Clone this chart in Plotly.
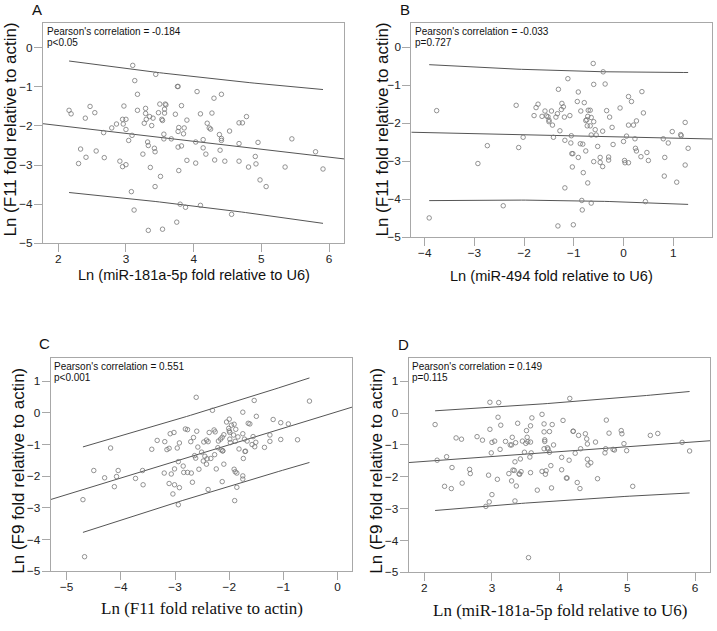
import numpy as np
import plotly.graph_objects as go

# ---------------- data ----------------
A_x = [2.16,2.19,2.47,2.40,2.54,2.33,2.41,2.30,2.56,2.67,
       2.68,2.79,2.86,2.91,2.95,2.97,2.95,2.96,3.00,3.00,
       3.00,3.04,3.09,3.08,3.10,3.13,3.12,3.17,3.17,3.29,
       3.29,3.30,3.27,3.25,3.33,3.32,3.35,3.38,3.40,3.36,
       3.33,3.42,3.43,3.43,3.44,3.48,3.50,3.53,3.54,3.58,
       3.57,3.57,3.56,3.56,3.51,3.54,3.59,3.67,3.73,3.76,
       3.77,3.77,3.78,3.77,3.78,3.75,3.82,3.82,3.80,3.85,
       3.86,3.88,3.90,3.90,4.05,4.03,4.03,4.10,4.10,4.14,
       4.14,4.18,4.20,4.23,4.25,4.27,4.30,4.31,4.38,4.39,
       4.41,4.41,4.41,4.46,4.53,4.56,4.67,4.67,4.67,4.72,
       4.78,4.81,4.91,4.92,4.95,4.98,5.07,5.35,5.45,5.80,5.91]
A_y = [-1.60,-1.69,-1.50,-1.80,-1.66,-2.59,-2.80,-2.96,-2.64,-2.17,
       -2.81,-2.05,-1.95,-2.90,-3.04,-1.49,-1.83,-1.95,-1.83,-2.09,
       -2.99,-2.37,-2.24,-3.68,-0.45,-0.84,-4.15,-1.60,-1.19,-1.55,
       -1.68,-1.83,-1.93,-2.72,-2.50,-2.41,-1.76,-1.99,-1.80,-3.06,
       -4.67,-2.57,-2.66,-3.55,-0.68,-1.66,-1.44,-1.83,-1.86,-1.44,
       -1.57,-1.67,-2.21,-2.33,-3.29,-4.64,-1.46,-2.33,-1.70,-0.99,
       -0.99,-2.14,-2.04,-2.54,-3.14,-4.46,-1.48,-2.51,-4.00,-2.20,
       -2.05,-4.08,-1.85,-2.88,-1.12,-2.41,-2.95,-1.69,-4.03,-2.35,
       -2.56,-2.72,-1.93,-2.05,-2.08,-1.67,-1.29,-2.87,-2.22,-2.62,
       -1.19,-2.32,-2.37,-2.90,-2.13,-4.26,-1.92,-2.45,-2.90,-1.92,
       -1.76,-3.05,-2.78,-2.97,-2.42,-3.38,-3.55,-3.05,-2.33,-2.66,-3.10]

B_x = [-3.91,-3.76,-2.93,-2.74,-2.42,-2.11,-2.02,-2.16,-1.80,-1.76,
       -1.72,-1.64,-1.58,-1.55,-1.52,-1.50,-1.50,-1.45,-1.43,-1.41,
       -1.36,-1.33,-1.31,-1.28,-1.25,-1.24,-1.21,-1.19,-1.18,-1.18,
       -1.12,-1.32,-1.08,-1.05,-1.06,-1.04,-1.02,-1.03,-1.01,-0.93,
       -0.91,-0.91,-0.86,-0.87,-0.82,-0.81,-0.84,-0.83,-0.79,-0.76,
       -0.74,-0.76,-0.73,-0.72,-0.71,-0.72,-0.67,-0.67,-0.65,-0.65,
       -0.65,-0.61,-0.60,-0.60,-0.60,-0.57,-0.55,-0.52,-0.47,-0.47,
       -0.42,-0.41,-0.42,-0.37,-0.34,-0.30,-0.30,-0.28,-0.23,-0.21,
       -0.07,0.00,0.02,0.03,0.06,0.10,0.10,0.10,0.16,0.20,
       0.23,0.24,0.26,0.26,0.35,0.37,0.40,0.44,0.47,0.50,
       0.80,0.82,0.83,0.90,0.98,1.07,1.15,1.16,1.24,1.24,1.30]
B_y = [-4.49,-1.67,-3.06,-2.59,-4.17,-2.64,-2.37,-1.53,-1.80,-1.59,
       -1.50,-1.82,-1.68,-1.81,-1.83,-1.92,-1.96,-1.68,-2.05,-2.37,
       -1.84,-1.75,-1.11,-2.20,-1.64,-1.48,-1.57,-1.84,-2.45,-3.70,
       -0.83,-4.70,-1.80,-2.33,-2.52,-2.80,-2.80,-3.15,-4.67,-1.43,
       -1.18,-2.90,-1.68,-2.54,-2.55,-3.30,-4.03,-4.28,-1.46,-1.93,
       -1.91,-2.73,-2.07,-1.82,-1.66,-3.57,-1.66,-2.07,-1.85,-2.31,
       -4.10,-0.43,-0.98,-1.96,-3.01,-2.17,-2.31,-2.61,-2.90,-3.03,
       -3.14,-0.65,-2.21,-0.97,-1.67,-2.89,-2.97,-1.84,-2.11,-2.56,
       -1.60,-2.48,-2.98,-3.04,-2.34,-1.30,-2.05,-3.04,-1.43,-2.05,
       -2.41,-2.66,-1.94,-2.73,-2.88,-1.17,-1.73,-4.06,-2.77,-2.98,
       -2.41,-3.39,-2.90,-2.52,-2.22,-3.55,-2.30,-2.33,-3.10,-1.98,-2.66]

C_x = [-4.70,-4.67,-4.50,-4.19,-4.30,-4.12,-4.08,-4.05,-3.73,-3.60,
       -3.59,-3.43,-3.33,-3.19,-3.20,-3.15,-3.11,-3.09,-3.11,-3.07,
       -3.04,-3.02,-3.01,-3.01,-2.96,-2.94,-2.92,-2.92,-2.94,-2.85,
       -2.84,-2.81,-2.77,-2.77,-2.71,-2.70,-2.68,-2.66,-2.64,-2.62,
       -2.61,-2.60,-2.58,-2.56,-2.51,-2.48,-2.45,-2.47,-2.42,-2.42,
       -2.41,-2.39,-2.39,-2.37,-2.34,-2.31,-2.28,-2.26,-2.27,-2.24,
       -2.21,-2.20,-2.16,-2.15,-2.13,-2.13,-2.12,-2.12,-2.10,-2.10,
       -2.05,-2.01,-2.00,-2.00,-1.99,-1.99,-1.98,-1.96,-1.92,-1.91,
       -1.91,-1.89,-1.90,-1.88,-1.89,-1.86,-1.86,-1.84,-1.82,-1.75,
       -1.75,-1.75,-1.75,-1.74,-1.72,-1.71,-1.70,-1.67,-1.65,-1.62,
       -1.58,-1.56,-1.54,-1.53,-1.51,-1.50,-1.35,-1.25,-1.25,-1.19,
       -1.05,-1.05,-0.91,-0.74,-0.52]
C_y = [-2.74,-4.54,-1.82,-1.11,-2.05,-2.33,-2.01,-1.82,-2.07,-1.82,
       -2.27,-1.15,-0.87,-0.91,-1.90,-1.16,-1.12,-0.66,-2.23,-1.93,
       -2.56,-0.62,-2.27,-1.77,-1.11,-1.54,-0.95,-2.36,-2.90,-1.68,
       -1.88,-0.51,-0.53,-1.88,-0.91,-1.90,-2.19,-0.78,-1.35,-1.43,
       0.49,-0.58,-1.08,-1.78,-1.24,-1.52,-1.37,-0.92,-1.62,-0.86,
       -1.45,-2.42,-0.91,-0.62,-1.44,0.08,-0.54,-0.60,-1.32,-1.77,
       -1.10,-0.89,-0.83,-1.17,-2.17,-0.77,-1.20,-1.20,-0.69,-1.62,
       -0.29,-0.49,-0.20,-0.57,-0.62,-0.83,-0.94,-0.39,-0.70,-0.36,
       -1.78,-1.86,-2.77,-0.52,-0.90,-1.90,-2.35,-0.76,-1.14,0.02,
       -0.66,-1.99,-2.09,-1.44,-0.83,-1.22,-1.21,-0.89,-0.33,-0.35,
       -1.00,-0.75,0.39,-1.07,-0.93,-0.11,-1.09,-0.90,-0.70,-0.21,
       -0.31,-0.84,-0.35,-0.85,0.37]

D_x = [2.16,2.19,2.30,2.33,2.40,2.41,2.47,2.55,2.56,2.67,
       2.68,2.78,2.86,2.91,2.96,2.95,2.97,2.97,2.99,3.00,
       3.00,3.04,3.08,3.09,3.10,3.12,3.13,3.20,3.25,3.27,
       3.29,3.29,3.30,3.31,3.33,3.34,3.34,3.35,3.36,3.38,
       3.40,3.41,3.42,3.43,3.45,3.48,3.50,3.51,3.52,3.53,
       3.56,3.57,3.57,3.57,3.54,3.58,3.59,3.67,3.74,3.74,
       3.77,3.77,3.78,3.78,3.77,3.79,3.80,3.82,3.83,3.85,
       3.85,3.87,3.88,3.89,3.91,4.03,4.03,4.05,4.10,4.11,
       4.14,4.15,4.20,4.20,4.23,4.26,4.28,4.30,4.31,4.38,
       4.40,4.41,4.41,4.42,4.46,4.53,4.56,4.67,4.68,4.69,
       4.73,4.79,4.81,4.91,4.92,4.95,4.99,5.08,5.34,5.45,5.81,5.92]
D_y = [-0.36,-1.48,-2.30,-1.37,-2.37,-1.71,-0.78,-0.82,-2.20,-1.77,
       -1.90,-0.74,-0.85,-2.93,-2.79,-1.95,-0.51,0.34,-1.25,-2.56,
       -0.92,-0.88,-2.08,-0.13,0.33,-1.14,-0.38,-0.89,-1.90,-1.00,
       -1.00,-2.13,-0.76,-1.79,-1.80,-2.76,-1.53,-0.93,-2.29,-0.32,
       -1.91,-1.92,-1.44,-1.84,-0.88,-1.23,-0.95,-0.55,-0.76,-0.90,
       -1.38,-1.87,-0.91,-0.40,-4.54,-1.25,-0.15,-2.42,-0.04,-1.83,
       -0.34,-0.59,-0.84,-0.89,-1.12,-1.92,-1.81,-1.09,-1.13,-1.23,
       -0.58,-1.65,-2.35,-0.36,-1.00,-1.39,-1.78,-0.23,-2.04,-2.04,
       -1.48,0.46,-0.57,-0.57,-1.26,-2.18,-0.70,-2.37,-1.12,-0.65,
       -0.81,-1.45,-0.97,-1.63,-1.56,-0.91,-2.06,-1.25,-1.12,-0.22,
       -0.63,-1.14,-1.16,-0.55,-0.65,-0.96,-1.18,-2.30,-0.70,-0.64,-0.92,-1.19]

panel_letters = ["A", "B", "C", "D"]
stats_line1 = ["Pearson's correlation = -0.184", "Pearson's correlation = -0.033",
               "Pearson's correlation = 0.551", "Pearson's correlation = 0.149"]
stats_line2 = ["p<0.05", "p=0.727", "p<0.001", "p=0.115"]
x_titles = ["Ln (miR-181a-5p fold relative to U6)",
            "Ln (miR-494 fold relative to U6)",
            "Ln (F11 fold relative to actin)",
            "Ln (miR-181a-5p fold relative to U6)"]
y_titles = ["Ln (F11 fold relative to actin)",
            "Ln (F11 fold relative to actin)",
            "Ln (F9 fold relative to actin)",
            "Ln (F9 fold relative to actin)"]
x_ticks = [[2, 3, 4, 5, 6], [-4, -3, -2, -1, 0, 1],
           [-5, -4, -3, -2, -1, 0], [2, 3, 4, 5, 6]]
y_ticks = [[0, -1, -2, -3, -4, -5], [0, -1, -2, -3, -4, -5],
           [1, 0, -1, -2, -3, -4, -5], [1, 0, -1, -2, -3, -4, -5]]

# ---------------- layout geometry ----------------
W, H = 717, 631
x_ranges = [[1.775, 6.22], [-4.27, 1.78], [-5.295, 0.265], [1.77, 6.226]]
y_ranges = [[-5, 0.64], [-5, 0.64], [-5, 1.74], [-5, 1.74]]
# plot boxes in pixels: left, right, top, bottom
boxes = [(43, 344, 23, 246), (411.3, 712, 23, 240),
         (50.7, 352, 361.7, 577.7), (408.7, 710.3, 361.7, 578.7)]
x_title_fonts = ["Liberation Sans, Arial, sans-serif"] * 2 + ["Liberation Serif, Times New Roman, serif"] * 2
x_title_sizes = [14.6, 14.6, 17, 17]
x_title_pos = [(194, 278), (551, 279), (202, 615), (560, 617)]
y_title_pos = [(11, 131), (383, 131), (19, 476), (377, 476)]
letter_pos = [(37, 10), (405, 10), (44, 347), (403, 348)]

SANS = "Liberation Sans, Arial, sans-serif"
BOX = "#a8a8a8"
LINE = "#555555"
MARK = "#777777"

datasets = [(A_x, A_y), (B_x, B_y), (C_x, C_y), (D_x, D_y)]

fig = go.Figure()
layout = dict(width=W, height=H, margin=dict(l=0, r=0, t=0, b=0),
              paper_bgcolor="white", plot_bgcolor="white", showlegend=False,
              annotations=[])


def t975(df):
    z = 1.959964
    return z + (z ** 3 + z) / (4 * df) + (5 * z ** 5 + 16 * z ** 3 + 3 * z) / (96 * df ** 2)


for i, (xs, ys) in enumerate(datasets):
    k = "" if i == 0 else str(i + 1)
    xa, ya = "x" + k, "y" + k
    l, r, t, b = boxes[i]
    x = np.array(xs, float)
    y = np.array(ys, float)
    n = len(x)
    xm, ym = x.mean(), y.mean()
    sxx = ((x - xm) ** 2).sum()
    slope = ((x - xm) * (y - ym)).sum() / sxx
    icpt = ym - slope * xm
    resid = y - (icpt + slope * x)
    s = np.sqrt((resid ** 2).sum() / (n - 2))
    tq = t975(n - 2)

    # fit line over the whole axis
    xf = np.array(x_ranges[i])
    fig.add_trace(go.Scatter(x=xf, y=icpt + slope * xf, mode="lines",
                             line=dict(color=LINE, width=1), xaxis=xa, yaxis=ya,
                             hoverinfo="skip"))
    # 95% prediction interval over the data range
    xg = np.linspace(x.min(), x.max(), 60)
    half = tq * s * np.sqrt(1 + 1 / n + (xg - xm) ** 2 / sxx)
    for sign in (1, -1):
        fig.add_trace(go.Scatter(x=xg, y=icpt + slope * xg + sign * half, mode="lines",
                                 line=dict(color=LINE, width=1), xaxis=xa, yaxis=ya,
                                 hoverinfo="skip"))
    fig.add_trace(go.Scatter(x=x, y=y, mode="markers", xaxis=xa, yaxis=ya,
                             marker=dict(symbol="circle-open", size=4.5, color=MARK,
                                         line=dict(width=0.8, color=MARK))))

    common = dict(showline=True, mirror=True, linecolor=BOX, linewidth=1,
                  ticks="outside", ticklen=8, tickcolor=BOX, tickwidth=1,
                  showgrid=False, zeroline=False,
                  tickfont=dict(family=SANS, size=11.8, color="#222"))
    layout["xaxis" + k] = dict(common, domain=[l / W, r / W], anchor=ya,
                               range=x_ranges[i], tickvals=x_ticks[i],
                               ticklabelstandoff=-3)
    layout["yaxis" + k] = dict(common, domain=[1 - b / H, 1 - t / H], anchor=xa,
                               range=y_ranges[i], tickvals=y_ticks[i],
                               ticklabelstandoff=-1)

    ann = layout["annotations"]
    for line_txt, dy in ((stats_line1[i], 8.7), (stats_line2[i], 20.3)):
        ann.append(dict(text=line_txt, xref="paper", yref="paper",
                        x=(l + 2.5) / W, y=1 - (t + dy) / H, xanchor="left", yanchor="middle",
                        showarrow=False, align="left", borderpad=0,
                        font=dict(family=SANS, size=10, color="#111")))
    ann.append(dict(text=x_titles[i], xref="paper", yref="paper",
                    x=x_title_pos[i][0] / W, y=1 - x_title_pos[i][1] / H,
                    xanchor="center", yanchor="middle", showarrow=False,
                    font=dict(family=x_title_fonts[i], size=x_title_sizes[i], color="#111")))
    ann.append(dict(text=y_titles[i], xref="paper", yref="paper", textangle=-90,
                    x=y_title_pos[i][0] / W, y=1 - y_title_pos[i][1] / H,
                    xanchor="center", yanchor="middle", showarrow=False,
                    font=dict(family=SANS, size=17, color="#111")))
    ann.append(dict(text=panel_letters[i], xref="paper", yref="paper",
                    x=letter_pos[i][0] / W, y=1 - letter_pos[i][1] / H,
                    xanchor="center", yanchor="middle", showarrow=False,
                    font=dict(family=SANS, size=15, color="#111")))

fig.update_layout(**layout)
fig.write_html("out.html", config={"displayModeBar": False},
               post_script="document.body.style.margin='0';document.body.style.overflow='hidden';")
